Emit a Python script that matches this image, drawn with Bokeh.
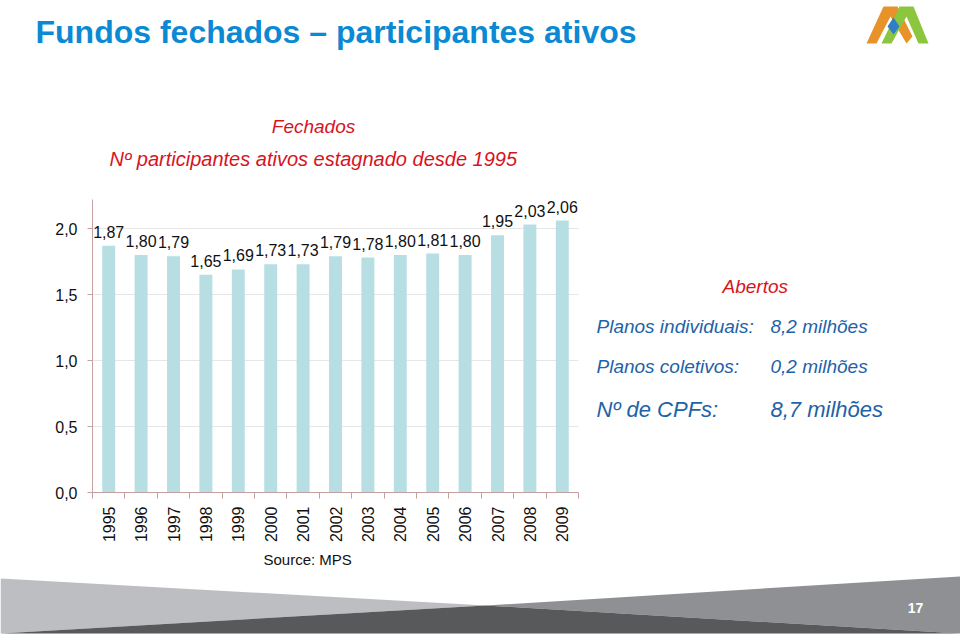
import math
from bokeh.plotting import figure
from bokeh.layouts import column, row
from bokeh.models import Range1d, FixedTicker, Label, LabelSet, ColumnDataSource
from bokeh.core.properties import value
from bokeh.embed import file_html
from bokeh.resources import INLINE

# ---------------- data ----------------
years = ["1995", "1996", "1997", "1998", "1999", "2000", "2001", "2002",
         "2003", "2004", "2005", "2006", "2007", "2008", "2009"]
participants = [1.87, 1.80, 1.79, 1.65, 1.69, 1.73, 1.73, 1.79,
                1.78, 1.80, 1.81, 1.80, 1.95, 2.03, 2.06]
y_ticks = [0.0, 0.5, 1.0, 1.5, 2.0]
y_tick_labels = ["0,0", "0,5", "1,0", "1,5", "2,0"]

title_text = "Fundos fechados \u2013 participantes ativos"
closed_head = "Fechados"
closed_note = "N\u00ba participantes ativos estagnado  desde 1995"
open_head = "Abertos"
open_rows = [("Planos individuais:", "8,2 milh\u00f5es"),
             ("Planos coletivos:", "0,2 milh\u00f5es"),
             ("N\u00ba de CPFs:", "8,7 milh\u00f5es")]
source_text = "Source: MPS"
page_no = "17"

# ---------------- styles ----------------
FONT = "Liberation Sans"
BLUE_T = "#0b8ad3"
RED = "#d7141e"
BLUE = "#1e62a8"
BAR = "#b7dfe3"
AXIS = "#c4a0a0"


def page_fig(x0, x1, y0, y1, **borders):
    b = dict(min_border_left=0, min_border_right=0, min_border_top=0, min_border_bottom=0)
    b.update(borders)
    w = x1 - x0 + b["min_border_left"] + b["min_border_right"]
    h = y1 - y0 + b["min_border_top"] + b["min_border_bottom"]
    f = figure(width=w, height=h, output_backend="svg", toolbar_location=None,
               x_range=Range1d(x0, x1), y_range=Range1d(y1, y0),
               x_axis_type=None, y_axis_type=None, **b)
    f.outline_line_color = None
    f.grid.visible = False
    return f


def lab(f, text, X, Y, size, color, style="normal", align="left"):
    f.add_layout(Label(x=X, y=Y - 0.37 * size, text=text, text_font=FONT,
                       text_font_size=f"{size}px", text_color=color,
                       text_font_style=style, text_align=align,
                       text_baseline="alphabetic"))


def poly(f, pts, color):
    f.patch([a for a, b in pts], [b for a, b in pts], fill_color=color, line_color=None)


# ---------------- top band ----------------
top = page_fig(0, 960, 0, 195)
lab(top, title_text, 35, 43, 32, BLUE_T, "bold")
lab(top, closed_head, 313, 133, 19, RED, "italic", "center")
lab(top, closed_note, 109, 166, 20, RED, "italic")
# logo
poly(top, [(866, 43), (883, 6), (897, 6), (912, 36), (906, 43), (890, 16), (876, 43)], "#e8922a")
poly(top, [(881, 43), (899, 6), (913, 6), (928, 43), (918, 43), (906, 16), (891, 43)], "#8cc63f")
poly(top, [(893, 17), (899, 26), (893, 34), (887, 26)], "#2f7fc8")

# ---------------- chart ----------------
n = len(years)
xs = [i + 0.5 for i in range(n)]
src = ColumnDataSource(dict(x=xs, top=participants,
                            label=[f"{v:.2f}".replace(".", ",") for v in participants]))

p = figure(width=590, height=350, output_backend="svg", toolbar_location=None,
           x_range=Range1d(0, n), y_range=Range1d(0, 2.22),
           min_border_left=92, min_border_right=12, min_border_top=4, min_border_bottom=53)
p.outline_line_color = None

p.vbar(x="x", top="top", width=0.4, source=src, fill_color=BAR, line_color=None)
p.add_layout(LabelSet(x="x", y="top", text="label", source=src,
                      text_align="center", text_baseline="alphabetic", y_offset=8,
                      text_font=value(FONT), text_font_size=value("16px"),
                      text_color=value("#111111")))

p.xaxis.ticker = FixedTicker(ticks=xs, minor_ticks=list(range(n + 1)))
p.xaxis.major_label_overrides = {x: y for x, y in zip(xs, years)}
p.xaxis.major_label_orientation = math.pi / 2
p.xaxis.major_tick_in = 0
p.xaxis.major_tick_out = 0
p.xaxis.minor_tick_in = 0
p.xaxis.minor_tick_out = 6
p.xaxis.minor_tick_line_color = AXIS
p.xaxis.axis_line_color = AXIS
p.xaxis.major_label_standoff = 8
p.xaxis.major_label_text_font = FONT
p.xaxis.major_label_text_font_size = "16px"
p.xaxis.major_label_text_color = "#111111"

p.yaxis.ticker = FixedTicker(ticks=y_ticks, minor_ticks=[])
p.yaxis.major_label_overrides = {t: l for t, l in zip(y_ticks, y_tick_labels)}
p.yaxis.major_tick_in = 0
p.yaxis.major_tick_out = 5
p.yaxis.major_tick_line_color = AXIS
p.yaxis.axis_line_color = AXIS
p.yaxis.major_label_standoff = 10
p.yaxis.major_label_text_font = FONT
p.yaxis.major_label_text_font_size = "16px"
p.yaxis.major_label_text_color = "#111111"

p.xgrid.visible = False
p.ygrid.grid_line_color = "#e6e6e6"

# ---------------- right text panel (frame aligned with chart frame) ----------------
side = page_fig(590, 960, 199, 492, min_border_top=4, min_border_bottom=53)
lab(side, open_head, 722, 293, 19, RED, "italic")
for (a, b), yy, sz in zip(open_rows, [333, 373, 417], [19, 19, 22]):
    lab(side, a, 596, yy, sz, BLUE, "italic")
    lab(side, b, 770, yy, sz, BLUE, "italic")

# ---------------- bottom band ----------------
bot = page_fig(0, 960, 545, 637)
lab(bot, source_text, 263, 565, 15, "#111111")
poly(bot, [(0, 578), (485, 605), (0, 633)], "#bcbec1")
poly(bot, [(960, 576), (485, 605), (960, 633)], "#8e9093")
poly(bot, [(0, 633), (485, 605), (960, 633)], "#58595b")
lab(bot, page_no, 915, 613, 14, "white", "bold", "center")

layout = column(top, row(p, side), bot)
open("out.html", "w").write(file_html(layout, INLINE))
